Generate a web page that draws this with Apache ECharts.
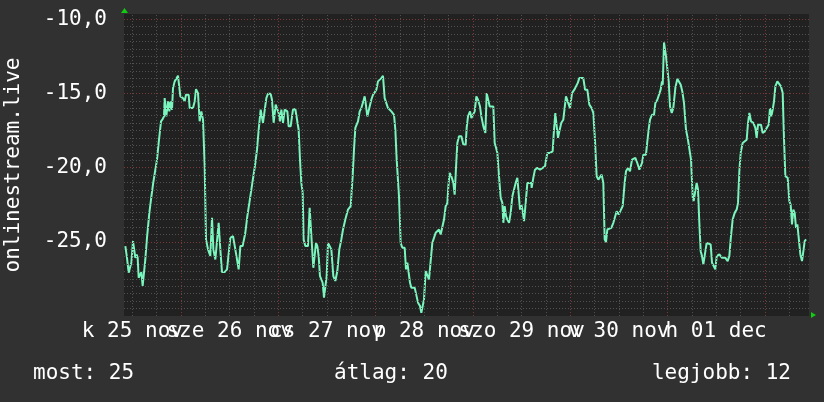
<!DOCTYPE html>
<html><head><meta charset="utf-8">
<script src="https://cdn.jsdelivr.net/npm/echarts@6/dist/echarts.min.js"></script>
<style>html,body{margin:0;padding:0;background:#313131;}#c{width:824px;height:402px;}</style>
</head><body><div id="c"></div>
<script>
// [hour since 25 nov 00:00, value]
const segTue = [[10.27,-25.29],[10.68,-26.08],[10.93,-26.19],[11.09,-27.08],[11.50,-27.08],[11.75,-26.41],[12.16,-24.95],[12.49,-24.95],[12.74,-26.08],[13.07,-25.85],
[13.31,-26.08],[13.56,-27.42],[13.97,-27.42],[14.22,-27.04],[14.54,-27.98],[14.87,-27.98],[15.20,-26.19],[15.61,-24.73],[16.19,-23.05],[16.60,-22.15],
[17.09,-21.14],[17.67,-20.14],[18.08,-19.46],[18.49,-18.34],[19.07,-16.88],[19.48,-16.73],[19.81,-16.55],[19.97,-15.32],[20.38,-16.55],[20.79,-15.54],
[21.12,-16.21],[21.37,-15.54],[21.78,-16.10],[22.03,-14.64],[22.44,-14.19],[22.85,-14.08],[23.26,-13.81],[23.42,-13.86],[23.84,-15.20],[24.49,-15.32],
[24.90,-15.54],[25.23,-15.09],[25.89,-15.09],[26.14,-15.99],[26.96,-15.99],[27.37,-15.54],[27.70,-14.71],[28.19,-14.98],[28.60,-16.88],[29.02,-16.21],
[29.43,-16.77],[29.84,-19.91],[30.17,-24.84],[30.66,-25.51],[31.23,-25.96],[31.65,-23.39],[31.98,-25.51],[32.47,-26.19],[33.29,-23.72],[33.70,-25.51],
[34.11,-27.04],[34.77,-27.04],[35.35,-26.86],[35.76,-26.75],[36.17,-24.73],[36.83,-24.62],[37.40,-25.51],[37.81,-25.63],[38.22,-26.86],[38.64,-25.29],
[39.21,-25.29],[39.87,-24.39],[40.36,-23.27],[40.86,-22.38],[41.35,-21.48],[42.34,-19.69],[42.75,-18.79],[43.16,-17.45],[43.65,-16.10]];
const segWed = [[43.98,-16.21],[44.22,-16.98],[44.63,-16.98],[45.05,-15.32],[45.46,-15.02],[46.11,-15.02],[46.44,-15.43],[46.85,-16.98],[47.35,-15.76],[47.76,-15.76],
[48.09,-16.32],[48.42,-16.88],[48.75,-16.10],[49.16,-16.98],[49.57,-16.10],[50.23,-16.21],[50.55,-17.22],[51.05,-17.22],[51.38,-16.55],[51.62,-16.10],
[52.20,-16.05],[52.69,-16.10],[53.02,-17.45],[53.35,-19.46],[53.68,-21.03],[54.01,-21.70],[54.25,-24.84],[54.67,-25.29],[55.32,-25.29],[55.73,-22.71],
[55.98,-22.71],[56.31,-25.29],[56.64,-26.75],[56.97,-26.75],[57.30,-25.07],[57.63,-25.29],[57.95,-25.96],[58.28,-27.31],[58.61,-27.53],[58.94,-27.76],
[59.27,-28.77],[59.60,-28.77],[59.93,-27.31],[60.26,-25.07],[60.75,-25.02],[61.08,-25.51],[61.57,-27.31],[62.07,-27.64],[62.56,-26.97],[63.05,-25.51],
[63.55,-24.84],[63.96,-24.17],[64.53,-23.50],[65.19,-22.83],[65.85,-22.60],[66.34,-20.58],[66.67,-18.79],[67.00,-17.33],[67.33,-17.22],[67.66,-16.88],
[68.07,-16.21],[68.48,-15.99],[68.97,-15.54],[69.30,-15.20],[69.55,-15.65],[69.96,-16.55],[70.45,-15.99],[70.94,-15.43],[71.36,-15.09],[71.77,-14.93],
[72.18,-14.75],[72.59,-14.19],[73.00,-14.08],[73.41,-13.97],[73.82,-13.81],[74.23,-15.32],[74.65,-15.43],[75.06,-15.99],[75.47,-15.88],[75.88,-16.21],
[76.21,-16.10],[76.54,-16.44],[76.87,-17.45],[77.20,-19.46]];
const segThu = [[77.36,-19.46],[77.77,-21.93],[78.18,-25.07],[78.60,-25.40],[79.17,-25.40],[79.50,-26.86],[79.83,-26.41],[80.16,-26.41],[80.49,-27.76],[80.82,-28.09],
[81.14,-28.21],[81.64,-28.09],[81.97,-28.21],[82.46,-29.10],[82.95,-29.33],[83.28,-29.78],[83.61,-29.78],[83.94,-28.88],[84.35,-26.97],[84.76,-27.08],
[85.17,-27.53],[85.58,-27.53],[85.99,-25.07],[86.41,-24.95],[86.82,-24.39],[87.23,-24.51],[87.64,-24.17],[88.05,-24.51],[88.46,-24.39],[88.87,-23.50],
[89.28,-22.60],[89.70,-22.38],[89.94,-21.26],[90.27,-20.36],[90.68,-20.58],[91.18,-21.03],[91.50,-21.82],[91.83,-20.02],[92.16,-18.34],[92.57,-17.89],
[93.15,-17.89],[93.64,-18.45],[94.22,-18.45],[94.46,-17.33],[94.79,-16.55],[95.29,-16.21],[95.62,-16.66],[96.11,-16.66],[96.44,-16.21],[96.85,-15.20],
[97.26,-15.43],[97.75,-15.88],[98.08,-16.55],[98.58,-17.22],[99.07,-17.67],[99.40,-14.98],[99.81,-14.98],[100.14,-15.88],[100.63,-15.76],[101.04,-15.88],
[101.37,-18.34],[101.62,-18.57],[102.03,-19.01],[102.44,-20.58],[102.85,-22.04],[103.26,-22.38],[103.51,-23.72],[103.84,-22.60],[104.17,-23.27],[104.49,-23.50],
[104.91,-23.72],[105.32,-23.05],[105.73,-21.93],[106.14,-21.93],[106.55,-21.03],[106.96,-20.69],[107.29,-20.69],[107.62,-22.83],[107.95,-22.49],[108.28,-22.94],
[108.61,-23.61],[109.02,-22.38],[109.43,-21.03],[109.92,-21.14],[110.42,-21.03]];
const segSat = [[110.49,-21.37],[110.90,-20.69],[111.31,-20.14],[111.89,-20.02],[112.55,-20.14],[113.20,-20.02],[113.78,-19.91],[114.36,-19.01],[115.01,-19.01],[115.67,-18.90],
[116.00,-17.45],[116.33,-16.32],[116.66,-17.22],[116.99,-18.00],[117.32,-17.56],[117.81,-16.98],[118.30,-16.77],[118.96,-15.20],[119.45,-15.20],[119.95,-15.99],
[120.44,-14.98],[121.02,-14.75],[121.43,-14.53],[121.84,-14.31],[122.25,-13.97],[123.24,-13.97],[123.65,-14.75],[124.22,-14.75],[124.72,-15.76],[125.29,-15.99],
[125.70,-16.32],[126.11,-18.12],[126.52,-20.58],[126.94,-20.81],[127.35,-20.81],[127.76,-20.47],[128.17,-21.03],[128.50,-24.84],[128.83,-25.02],[129.16,-24.17],
[129.65,-24.28],[130.14,-24.06],[130.64,-23.72],[131.05,-23.72],[131.46,-22.94],[131.95,-23.16],[132.44,-23.05],[132.94,-22.60],[133.43,-21.03],[133.76,-20.25],
[134.25,-20.02],[134.75,-20.25],[135.24,-19.46],[135.73,-19.35],[136.06,-19.35],[136.55,-19.69],[137.05,-20.14],[137.38,-20.25],[137.71,-19.69],[138.04,-19.13],
[138.69,-19.13],[139.02,-18.23],[139.35,-17.45],[139.68,-16.77],[140.17,-16.44],[140.67,-16.44],[141.00,-15.65],[141.49,-15.43],[141.98,-15.32],[142.31,-14.75],
[142.64,-14.19],[142.82,-14.42],[143.14,-11.57],[143.46,-11.57],[143.63,-12.51],[144.05,-12.51],[144.30,-14.20],[144.62,-15.88],[145.04,-16.32],[145.43,-15.99],
[145.93,-14.64],[146.42,-14.02],[146.91,-14.08],[147.26,-14.42],[147.65,-14.87],[148.07,-15.65]];
const segMon = [[148.56,-17.45],[148.97,-18.00],[149.39,-18.12],[149.80,-19.46],[150.21,-21.93],[150.45,-22.26],[150.78,-21.70],[151.19,-21.03],[151.52,-21.48],[151.85,-23.72],
[152.18,-25.63],[152.51,-25.96],[152.84,-26.52],[153.25,-26.41],[153.66,-25.07],[154.15,-25.07],[154.65,-25.18],[154.98,-26.41],[155.39,-26.41],[155.80,-26.86],
[156.13,-25.96],[156.46,-26.08],[156.79,-25.85],[157.44,-26.08],[158.27,-26.08],[158.84,-26.30],[159.25,-25.96],[159.58,-24.84],[160.07,-23.50],[160.57,-23.05],
[161.06,-22.83],[161.39,-22.38],[161.72,-20.25],[162.05,-19.01],[162.54,-18.34],[163.03,-18.23],[163.53,-18.12],[163.86,-16.98],[164.19,-16.32],[164.60,-16.88],
[165.17,-16.98],[165.66,-17.33],[165.99,-18.00],[166.32,-17.11],[166.65,-16.98],[167.06,-17.11],[167.47,-17.67],[167.97,-17.56],[168.46,-17.33],[168.95,-17.11],
[169.28,-15.99],[169.61,-16.55],[169.94,-16.10],[170.27,-15.54],[170.60,-14.53],[171.09,-14.19],[171.58,-14.26],[171.99,-14.53],[172.41,-14.98],[172.74,-18.12],
[173.07,-20.58],[173.64,-20.69],[174.05,-22.26],[174.38,-22.49],[174.71,-23.83],[175.04,-22.83],[175.37,-23.05],[175.70,-24.06],[176.03,-23.83],[176.36,-23.83],
[176.77,-25.85],[177.18,-26.30],[177.59,-26.30],[177.84,-24.95],[178.17,-24.84]];

const dayLabelHours = [12, 36, 60, 84, 108, 132, 156];
const dayLabels = ['k 25 nov', 'sze 26 nov', 'cs 27 nov', 'p 28 nov', 'szo 29 nov', 'v 30 nov', 'h 01 dec'];
const yLabelValues = [-25, -20, -15, -10];
const statTexts = ['most: 25', 'átlag: 20', 'legjobb: 12'];
const axisTitle = 'onlinestream.live';

const xMin = 9.94, xMax = 178.9, yMin = -30, yMax = -9.65;
const FONT = '"DejaVu Sans Mono", monospace';
const MINOR = '#505050', MAJOR = '#7a3a3a';

const series = [].concat(segTue, segWed, segThu, segSat, segMon);

// grid lines: every 0.5 unit (major every 5), every 6 h (major at midnight)
const gridMarks = [];
for (let v = -29.5; v <= -10 + 1e-9; v += 0.5) {
  const major = Math.abs(v / 5 - Math.round(v / 5)) < 1e-6;
  gridMarks.push({ yAxis: v, lineStyle: { color: major ? MAJOR : MINOR, type: [1, 2], width: 1 } });
}
for (let h = 12; h < xMax; h += 6) {
  const major = h % 24 === 0;
  gridMarks.push({ xAxis: h, lineStyle: { color: major ? MAJOR : MINOR, type: [1, 2], width: 1 } });
}

// one x axis per day label so that the overlapping labels are all drawn (as in the original)
const xAxes = dayLabelHours.map((h, i) => ({
  type: 'value', min: xMin, max: xMax, position: 'bottom', offset: 0,
  axisLine: { show: false }, axisTick: { show: false }, splitLine: { show: false },
  axisLabel: {
    customValues: [h], color: '#ffffff', fontFamily: FONT, fontSize: 21, margin: 5,
    showMinLabel: true, showMaxLabel: true,
    formatter: () => dayLabels[i]
  }
}));

const chart = echarts.init(document.getElementById('c'), null, { renderer: 'canvas' });
chart.setOption({
  backgroundColor: '#313131',
  animation: false,
  grid: { left: 124, right: 15, top: 14, bottom: 86, show: true, backgroundColor: '#212121', borderWidth: 0, containLabel: false, outerBoundsMode: 'none' },
  xAxis: xAxes,
  yAxis: {
    type: 'value', min: yMin, max: yMax,
    name: axisTitle, nameLocation: 'middle', nameGap: 100,
    nameTextStyle: { color: '#ffffff', fontFamily: FONT, fontSize: 21 },
    axisLine: { show: false }, axisTick: { show: false }, splitLine: { show: false },
    axisLabel: {
      customValues: yLabelValues, color: '#ffffff', fontFamily: FONT, fontSize: 21, margin: 17,
      showMinLabel: true, showMaxLabel: true,
      formatter: v => v.toFixed(1).replace('.', ',')
    }
  },
  series: [
    { type: 'line', data: [], z: 1, silent: true, xAxisIndex: 0,
      markLine: { silent: true, symbol: ['none', 'none'], label: { show: false }, animation: false, data: gridMarks } },
    { type: 'line', data: series, z: 3, xAxisIndex: 0, showSymbol: false, symbol: 'none',
      lineStyle: { color: '#7af5bd', width: 2 }, itemStyle: { color: '#7af5bd' } }
  ]
});

const pTop = chart.convertToPixel({ gridIndex: 0 }, [xMin, yMax]);
const pRight = chart.convertToPixel({ gridIndex: 0 }, [xMax, yMin]);
chart.setOption({
  graphic: [
    { type: 'polygon', shape: { points: [[pTop[0] - 3, pTop[1] - 1], [pTop[0] + 4, pTop[1] - 1], [pTop[0] + 0.5, pTop[1] - 6]] }, style: { fill: '#11cc11' } },
    { type: 'polygon', shape: { points: [[pRight[0] + 2, pRight[1] - 4], [pRight[0] + 2, pRight[1] + 2], [pRight[0] + 7, pRight[1] - 1]] }, style: { fill: '#11cc11' } },
    { type: 'text', style: { x: 33, y: 374, text: statTexts[0], fill: '#ffffff', font: '21px ' + FONT, align: 'left', verticalAlign: 'middle' } },
    { type: 'text', style: { x: 334, y: 374, text: statTexts[1], fill: '#ffffff', font: '21px ' + FONT, align: 'left', verticalAlign: 'middle' } },
    { type: 'text', style: { x: 791, y: 374, text: statTexts[2], fill: '#ffffff', font: '21px ' + FONT, align: 'right', verticalAlign: 'middle' } }
  ]
});
</script>
</body></html>
